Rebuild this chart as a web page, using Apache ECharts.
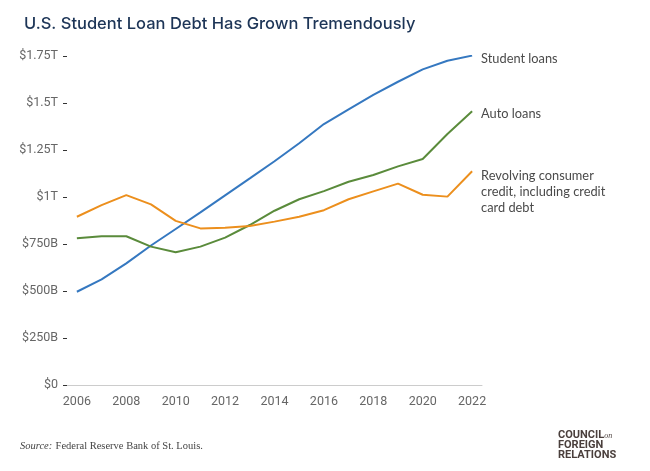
<!DOCTYPE html>
<html>
<head>
<meta charset="utf-8">
<script src="https://cdn.jsdelivr.net/npm/echarts@6/dist/echarts.min.js"></script>
<style>
  html, body { margin: 0; padding: 0; background: #fff; }
  #main { width: 650px; height: 471px; }
</style>
</head>
<body>
<div id="main"></div>
<script>
// years on the x axis
var years = [2006, 2007, 2008, 2009, 2010, 2011, 2012, 2013, 2014, 2015, 2016, 2017, 2018, 2019, 2020, 2021, 2022];
var yearLabels = [2006, 2008, 2010, 2012, 2014, 2016, 2018, 2020, 2022];

// debt in trillions of dollars
var studentLoans = [0.496, 0.562, 0.647, 0.742, 0.830, 0.918, 1.009, 1.099, 1.190, 1.286, 1.388, 1.466, 1.543, 1.613, 1.679, 1.725, 1.752];
var autoLoans = [0.780, 0.791, 0.791, 0.736, 0.706, 0.736, 0.784, 0.851, 0.927, 0.988, 1.031, 1.081, 1.117, 1.163, 1.202, 1.335, 1.456];
var revolving = [0.895, 0.957, 1.010, 0.961, 0.873, 0.833, 0.837, 0.846, 0.869, 0.895, 0.930, 0.988, 1.030, 1.071, 1.012, 1.002, 1.137];

var yTickValues = [0, 0.25, 0.5, 0.75, 1, 1.25, 1.5, 1.75];
var yTickLabels = ['$0', '$250B', '$500B', '$750B', '$1T', '$1.25T', '$1.5T', '$1.75T'];

function pairs(vals) {
  return years.map(function (y, i) { return [y, vals[i]]; });
}

var titleFont = 'Inter, Roboto, sans-serif';
var labelFont = 'Lato, Roboto, sans-serif';
var axisFont = 'Roboto, sans-serif';

function lineSeries(name, vals, color, labelText, labelOpts) {
  return {
    name: name,
    type: 'line',
    data: pairs(vals),
    showSymbol: false,
    symbol: 'none',
    lineStyle: { color: color, width: 2 },
    itemStyle: { color: color },
    endLabel: Object.assign({
      show: true,
      formatter: labelText,
      distance: 9,
      color: '#4a4a4a',
      fontFamily: labelFont,
      fontSize: 12.8,
      lineHeight: 16
    }, labelOpts || {})
  };
}

var myChart = echarts.init(document.getElementById('main'));

var option = {
  backgroundColor: '#fff',
  animation: false,
  title: {
    text: 'U.S. Student Loan Debt Has Grown Tremendously',
    left: 19,
    top: 11,
    textStyle: {
      color: '#1d3557',
      fontFamily: titleFont,
      fontWeight: 500,
      fontSize: 16.5
    }
  },
  grid: { left: 67, right: 168, top: 56, bottom: 86 },
  xAxis: {
    type: 'value',
    min: 2005.6,
    max: 2022.4,
    splitLine: { show: false },
    axisLine: { lineStyle: { color: '#cccccc', width: 1 } },
    axisTick: { show: false },
    axisLabel: {
      customValues: yearLabels,
      color: '#666',
      fontFamily: axisFont,
      fontSize: 12.5,
      margin: 10,
      formatter: function (v) { return String(v); }
    }
  },
  yAxis: {
    type: 'value',
    min: 0,
    max: 1.75,
    interval: 0.25,
    splitLine: { show: false },
    axisLine: { show: false },
    axisTick: { show: true, length: 4, lineStyle: { color: '#333' } },
    axisLabel: {
      color: '#666',
      fontFamily: axisFont,
      fontSize: 12.5,
      margin: 9,
      formatter: function (v) {
        var i = yTickValues.indexOf(Math.round(v * 100) / 100);
        return i >= 0 ? yTickLabels[i] : '';
      }
    }
  },
  series: [
    lineSeries('Student loans', studentLoans, '#3578c0', 'Student loans', { offset: [0, 3] }),
    lineSeries('Auto loans', autoLoans, '#5a8b3b', 'Auto loans', { offset: [0, 3] }),
    lineSeries('Revolving', revolving, '#ec8f1d',
      'Revolving consumer\ncredit, including credit\ncard debt',
      { verticalAlign: 'top', offset: [0, -3] })
  ],
  graphic: [
    {
      type: 'text',
      left: 20,
      top: 440,
      style: {
        rich: {
          i: { fontFamily: '"Liberation Serif", "DejaVu Serif", serif', fontStyle: 'italic', fontSize: 10.5, fill: '#444' },
          n: { fontFamily: '"Liberation Serif", "DejaVu Serif", serif', fontSize: 10.5, fill: '#444' }
        },
        text: '{i|Source:} {n|Federal Reserve Bank of St. Louis.}'
      }
    },
    {
      type: 'text',
      left: 558,
      top: 430,
      style: {
        rich: {
          b: { fontFamily: 'Roboto, sans-serif', fontWeight: 'bold', fontSize: 11, fill: '#4a3f3c', lineHeight: 10 },
          s: { fontFamily: '"Liberation Serif", serif', fontStyle: 'italic', fontSize: 8, fill: '#4a3f3c', lineHeight: 10 }
        },
        text: '{b|COUNCIL}{s|on}\n{b|FOREIGN}\n{b|RELATIONS}'
      }
    }
  ]
};

myChart.setOption(option);
</script>
</body>
</html>
